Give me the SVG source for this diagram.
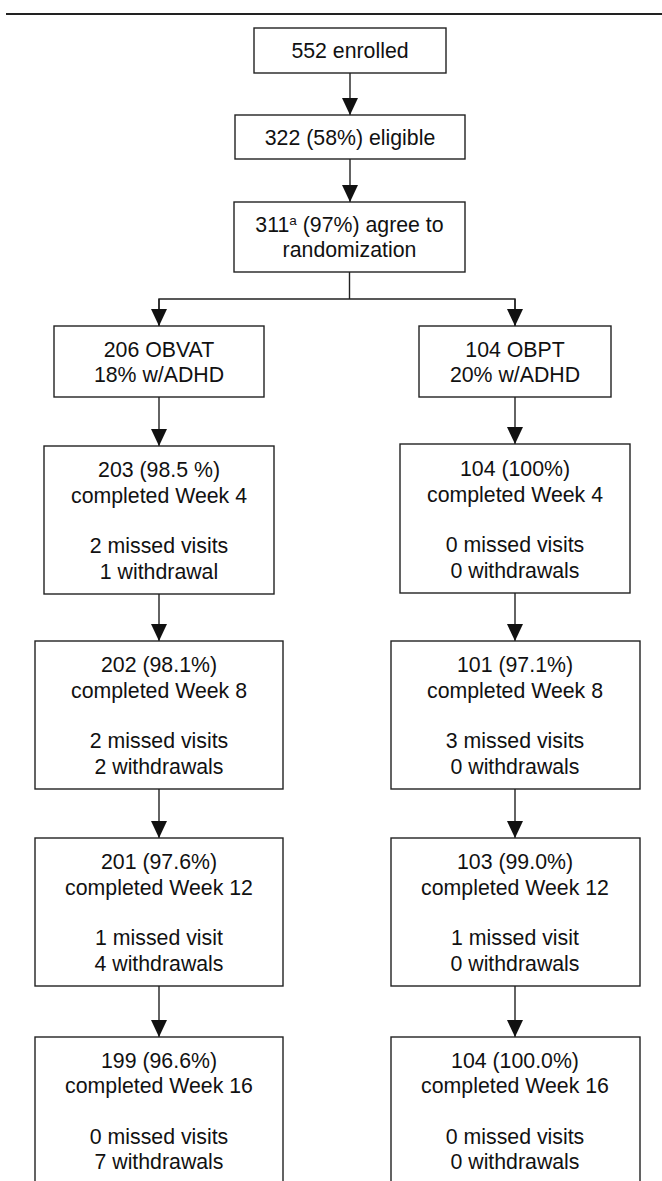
<svg xmlns="http://www.w3.org/2000/svg" width="662" height="1181" viewBox="0 0 662 1181">
<style>
.box{fill:#fff;stroke:#222;stroke-width:1.4}
.t{font-family:"Liberation Sans",Arial,sans-serif;font-size:21.3px;fill:#111;text-anchor:middle}
.c{fill:none;stroke:#222;stroke-width:1.4}
</style>
<defs>
<marker id="ah" markerUnits="userSpaceOnUse" markerWidth="17" markerHeight="17" refX="17" refY="8" orient="auto">
<path d="M0,0 L17,8 L0,16 Z" fill="#111"/>
</marker>
</defs>
<rect x="0" y="0" width="662" height="1181" fill="#fff"/>
<line x1="6" y1="14" x2="662" y2="14" stroke="#222" stroke-width="2.2"/>
<g id="connectors">
<line class="c" x1="350" y1="73" x2="350" y2="115" marker-end="url(#ah)"/>
<line class="c" x1="350" y1="159" x2="350" y2="202" marker-end="url(#ah)"/>
<polyline class="c" points="349.5,272 349.5,299"/>
<polyline class="c" points="159,326 159,299 515,299 515,326"/>
<line class="c" x1="159" y1="299" x2="159" y2="326" marker-end="url(#ah)"/>
<line class="c" x1="515" y1="299" x2="515" y2="326" marker-end="url(#ah)"/>
<line class="c" x1="159" y1="397" x2="159" y2="446" marker-end="url(#ah)"/>
<line class="c" x1="515" y1="397" x2="515" y2="444" marker-end="url(#ah)"/>
<line class="c" x1="159" y1="594" x2="159" y2="641" marker-end="url(#ah)"/>
<line class="c" x1="515" y1="593" x2="515" y2="641" marker-end="url(#ah)"/>
<line class="c" x1="159" y1="789" x2="159" y2="838" marker-end="url(#ah)"/>
<line class="c" x1="515" y1="789" x2="515" y2="838" marker-end="url(#ah)"/>
<line class="c" x1="159" y1="986" x2="159" y2="1037" marker-end="url(#ah)"/>
<line class="c" x1="515" y1="986" x2="515" y2="1037" marker-end="url(#ah)"/>
</g>
<g id="enrolled">
<rect class="box" x="254" y="28" width="192" height="45"/>
<text class="t" x="350" y="58">552 enrolled</text>
</g>
<g id="eligible">
<rect class="box" x="235" y="115" width="230" height="44"/>
<text class="t" x="350" y="145">322 (58%) eligible</text>
</g>
<g id="randomization">
<rect class="box" x="234" y="202" width="231" height="70"/>
<text class="t" x="349.5" y="232">311<tspan font-size="13.5" dy="-7">a</tspan><tspan dy="7"> (97%) agree to</tspan></text>
<text class="t" x="349.5" y="257">randomization</text>
</g>
<g id="obvat">
<rect class="box" x="54" y="326" width="210" height="71"/>
<text class="t" x="159" y="357">206 OBVAT</text>
<text class="t" x="159" y="382">18% w/ADHD</text>
</g>
<g id="obpt">
<rect class="box" x="419" y="326" width="192" height="71"/>
<text class="t" x="515" y="357">104 OBPT</text>
<text class="t" x="515" y="382">20% w/ADHD</text>
</g>
<g id="obvat-w4">
<rect class="box" x="44" y="446" width="230" height="148"/>
<text class="t" x="159" y="477">203 (98.5 %)</text>
<text class="t" x="159" y="502.5">completed Week 4</text>
<text class="t" x="159" y="553">2 missed visits</text>
<text class="t" x="159" y="578.5">1 withdrawal</text>
</g>
<g id="obpt-w4">
<rect class="box" x="400" y="444" width="230" height="149"/>
<text class="t" x="515" y="476">104 (100%)</text>
<text class="t" x="515" y="501.5">completed Week 4</text>
<text class="t" x="515" y="552">0 missed visits</text>
<text class="t" x="515" y="577.5">0 withdrawals</text>
</g>
<g id="obvat-w8">
<rect class="box" x="35" y="641" width="248" height="148"/>
<text class="t" x="159" y="672">202 (98.1%)</text>
<text class="t" x="159" y="697.5">completed Week 8</text>
<text class="t" x="159" y="748">2 missed visits</text>
<text class="t" x="159" y="773.5">2 withdrawals</text>
</g>
<g id="obpt-w8">
<rect class="box" x="391" y="641" width="249" height="148"/>
<text class="t" x="515" y="672">101 (97.1%)</text>
<text class="t" x="515" y="697.5">completed Week 8</text>
<text class="t" x="515" y="748">3 missed visits</text>
<text class="t" x="515" y="773.5">0 withdrawals</text>
</g>
<g id="obvat-w12">
<rect class="box" x="35" y="838" width="248" height="148"/>
<text class="t" x="159" y="869">201 (97.6%)</text>
<text class="t" x="159" y="894.5">completed Week 12</text>
<text class="t" x="159" y="945">1 missed visit</text>
<text class="t" x="159" y="970.5">4 withdrawals</text>
</g>
<g id="obpt-w12">
<rect class="box" x="391" y="838" width="249" height="148"/>
<text class="t" x="515" y="869">103 (99.0%)</text>
<text class="t" x="515" y="894.5">completed Week 12</text>
<text class="t" x="515" y="945">1 missed visit</text>
<text class="t" x="515" y="970.5">0 withdrawals</text>
</g>
<g id="obvat-w16">
<rect class="box" x="35" y="1037" width="248" height="160"/>
<text class="t" x="159" y="1067.5">199 (96.6%)</text>
<text class="t" x="159" y="1093">completed Week 16</text>
<text class="t" x="159" y="1143.5">0 missed visits</text>
<text class="t" x="159" y="1169">7 withdrawals</text>
</g>
<g id="obpt-w16">
<rect class="box" x="391" y="1037" width="249" height="160"/>
<text class="t" x="515" y="1067.5">104 (100.0%)</text>
<text class="t" x="515" y="1093">completed Week 16</text>
<text class="t" x="515" y="1143.5">0 missed visits</text>
<text class="t" x="515" y="1169">0 withdrawals</text>
</g>
</svg>
